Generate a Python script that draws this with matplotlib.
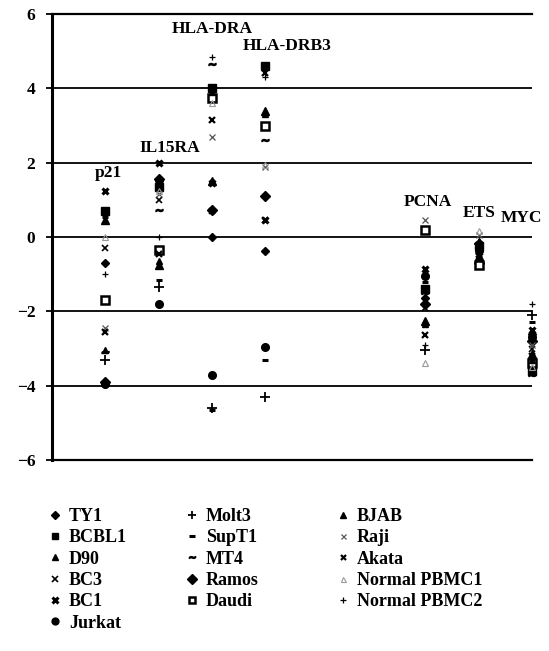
import matplotlib
matplotlib.use("Agg")
import matplotlib.pyplot as plt
from matplotlib.lines import Line2D

plt.rcParams['font.family'] = ['Liberation Serif', 'DejaVu Serif']
plt.rcParams['font.weight'] = 'bold'

# categories and their x positions (gap between HLA-DRB3 and PCNA)
genes = ["p21", "IL15RA", "HLA-DRA", "HLA-DRB3", "PCNA", "ETS", "MYC"]
gene_pos = [1, 2, 3, 4, 7, 8, 9]

# log2 expression values per cell line (order follows genes)
ty1 = [-0.7, 1.5, 0.0, -0.37, -1.65, -0.15, -2.6]
bcbl1 = [0.7, 1.35, 4.0, 4.6, -1.4, -0.25, -3.6]
d90 = [0.45, -0.75, 1.5, 3.4, -2.25, -0.5, -3.15]
bc3 = [-0.3, 1.0, 0.7, 0.45, -1.9, -0.3, -3.0]
bc1 = [1.25, 2.0, 1.45, 0.45, -0.85, -0.4, -2.5]
jurkat = [-3.95, -1.8, -3.7, -2.95, -1.05, -0.35, -2.7]
molt3 = [-3.3, -1.35, -4.6, -4.3, -3.05, -0.2, -2.1]
supt1 = [0.55, -1.15, -4.65, -3.3, -1.2, -0.25, -2.3]
mt4 = [-3.1, 0.72, 4.65, 2.6, -1.5, -0.4, -3.7]
ramos = [-3.9, 1.55, 0.72, 1.1, -1.8, -0.7, -2.8]
daudi = [-1.7, -0.35, 3.75, 3.0, 0.2, -0.75, -3.4]
bjab = [-3.05, -0.65, 3.9, 3.3, -2.35, -0.1, -3.3]
raji = [-2.45, 1.15, 2.7, 1.88, 0.45, 0.05, -2.9]
akata = [-2.55, -0.45, 3.15, 4.4, -2.65, -0.6, -3.2]
pbmc1 = [0.0, 1.25, 3.6, 1.95, -3.4, 0.15, -3.5]
pbmc2 = [-1.0, 0.0, 4.85, 4.3, -2.9, -0.1, -1.8]

series = [
    ("TY1", ty1, dict(marker='D', ms=4.5, mfc='black', mec='black')),
    ("BCBL1", bcbl1, dict(marker='s', ms=5.5, mfc='black', mec='black')),
    ("D90", d90, dict(marker='^', ms=5.5, mfc='black', mec='black')),
    ("BC3", bc3, dict(marker='x', ms=5, mec='black', mew=1.2)),
    ("BC1", bc1, dict(marker='x', ms=5, mec='black', mew=2.2)),
    ("Jurkat", jurkat, dict(marker='o', ms=5.5, mfc='black', mec='black')),
    ("Molt3", molt3, dict(marker='+', ms=7, mec='black', mew=1.3)),
    ("SupT1", supt1, dict(marker='_', ms=5, mec='black', mew=2.2)),
    ("MT4", mt4, dict(marker='$\\sim$', ms=5, mfc='black', mec='black')),
    ("Ramos", ramos, dict(marker='D', ms=5.5, mfc='black', mec='black')),
    ("Daudi", daudi, dict(marker='s', ms=5.5, mfc='white', mec='black', mew=1.8)),
    ("BJAB", bjab, dict(marker='^', ms=4.5, mfc='black', mec='black')),
    ("Raji", raji, dict(marker='x', ms=4, mec='#555555', mew=0.9)),
    ("Akata", akata, dict(marker='x', ms=4, mec='black', mew=1.6)),
    ("Normal PBMC1", pbmc1, dict(marker='^', ms=4, mfc='none', mec='#999999', mew=0.8)),
    ("Normal PBMC2", pbmc2, dict(marker='+', ms=4.5, mec='black', mew=0.9)),
]

fig = plt.figure(figsize=(5.49, 6.51), dpi=100)
W, H = 549, 651
ax = fig.add_axes([52 / W, 1 - 460 / H, (532 - 52) / W, (460 - 14) / H])

for name, vals, st in series:
    ax.plot(gene_pos, vals, linestyle='none', clip_on=False, zorder=3, **st)

# gene labels above each cluster
label_xy = [(1.05, 1.72), (2.2, 2.4), (3.0, 5.6), (4.4, 5.15), (7.05, 0.95), (8.0, 0.65), (8.8, 0.5)]
for g, (lx, ly) in zip(genes, label_xy):
    ax.text(lx, ly, g, ha='center', va='center', fontsize=12.5, fontweight='bold')

ax.set_xlim(0, 9)
ax.set_ylim(-6, 6)
ax.set_yticks([-6, -4, -2, 0, 2, 4, 6])
ax.set_yticklabels(['\u22126', '\u22124', '\u22122', '0', '2', '4', '6'], fontsize=12.5, fontweight='bold')
ax.set_xticks([])
for y in [-4, -2, 0, 2, 4]:
    ax.axhline(y, color='black', lw=1.3, zorder=1)
ax.spines['right'].set_visible(False)
ax.spines['left'].set_linewidth(2.2)
ax.spines['top'].set_linewidth(1.6)
ax.spines['bottom'].set_linewidth(1.6)
ax.tick_params(axis='y', length=4, width=1.3, pad=8)

# legend in three columns
def make_handles(items):
    hs = []
    for name, vals, st in items:
        hs.append(Line2D([], [], linestyle='none', label=name, **st))
    return hs

cols = [series[0:6], series[6:11], series[11:16]]
col_x = [50, 187, 338]
for items, cx in zip(cols, col_x):
    leg = fig.legend(handles=make_handles(items), loc='upper left',
                     bbox_to_anchor=(cx / W, 1 - 508 / H), frameon=False,
                     prop=dict(family='Liberation Serif', weight='bold', size=13),
                     handlelength=0.6, handletextpad=0.45, labelspacing=0.24,
                     borderaxespad=0, borderpad=0, markerscale=0.9)

fig.savefig("out.png", dpi=100)
